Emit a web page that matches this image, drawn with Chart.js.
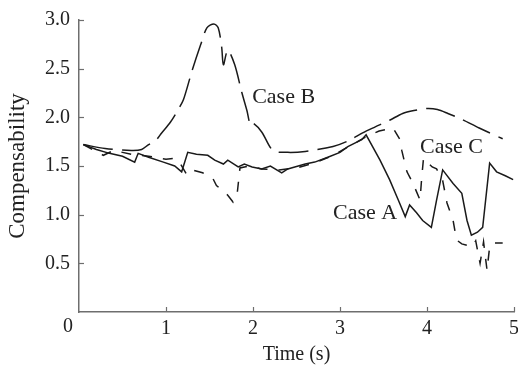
<!DOCTYPE html>
<html>
<head>
<meta charset="utf-8">
<script src="https://cdn.jsdelivr.net/npm/chart.js@4/dist/chart.umd.min.js"></script>
<style>
html,body{margin:0;padding:0;background:#fff;}
#wrap{width:518px;height:367px;position:relative;}
</style>
</head>
<body>
<div id="wrap"><canvas id="c"></canvas></div>
<script>
// ---- data ----
const caseATime = [0.05,0.2,0.35,0.5,0.64,0.68,0.8,0.97,1.1,1.18,1.25,1.35,1.48,1.56,1.66,1.71,1.83,1.9,1.99,2.1,2.2,2.33,2.4,2.48,2.6,2.71,2.86,3.0,3.09,3.25,3.30,3.46,3.57,3.67,3.75,3.80,3.88,3.95,4.05,4.11,4.18,4.30,4.40,4.46,4.51,4.58,4.64,4.72,4.80,4.90,4.99];
const caseAValues = [1.72,1.67,1.63,1.60,1.54,1.63,1.59,1.54,1.50,1.44,1.64,1.62,1.61,1.56,1.52,1.56,1.49,1.52,1.49,1.47,1.50,1.43,1.47,1.49,1.52,1.54,1.59,1.64,1.70,1.77,1.82,1.56,1.36,1.15,0.98,1.10,1.02,0.94,0.87,1.15,1.46,1.32,1.22,0.94,0.79,0.82,0.87,1.53,1.44,1.40,1.36];

const caseBTime = [0.05,0.3,0.6,0.72,0.8,0.88,0.95,1.05,1.14,1.2,1.30,1.40,1.47,1.55,1.60,1.64,1.66,1.71,1.79,1.87,1.93,1.97,2.0,2.1,2.23,2.40,2.6,2.92,3.1,3.26,3.40,3.57,3.72,3.85,4.0,4.12,4.24,4.40,4.6,4.87];
const caseBValues = [1.72,1.68,1.66,1.67,1.72,1.76,1.84,1.95,2.08,2.18,2.48,2.75,2.92,2.96,2.92,2.72,2.54,2.69,2.54,2.26,2.07,1.92,1.94,1.85,1.66,1.64,1.65,1.70,1.76,1.84,1.90,1.97,2.04,2.07,2.09,2.08,2.04,1.98,1.89,1.78];

const caseCTime = [0.05,0.28,0.4,0.6,0.8,1.0,1.1,1.16,1.24,1.30,1.42,1.54,1.58,1.71,1.77,1.82,1.85,1.95,2.1,2.3,2.5,2.7,2.9,3.1,3.3,3.45,3.61,3.69,3.71,3.75,3.77,3.84,3.92,3.94,3.96,4.06,4.11,4.18,4.23,4.30,4.34,4.40,4.52,4.56,4.61,4.65,4.69,4.72,4.76,4.87];
const caseCValues = [1.72,1.61,1.66,1.62,1.60,1.57,1.58,1.53,1.41,1.46,1.43,1.37,1.30,1.20,1.13,1.23,1.48,1.50,1.47,1.46,1.48,1.53,1.60,1.70,1.80,1.86,1.89,1.77,1.66,1.51,1.44,1.32,1.15,1.39,1.58,1.49,1.47,1.35,1.12,0.94,0.74,0.70,0.67,0.73,0.50,0.72,0.43,0.67,0.71,0.71];

const xTicks = [0,1,2,3,4,5];
const yTicks = [0.5,1.0,1.5,2.0,2.5,3.0];

const labelNames = ["Case A","Case B","Case C"];
const labelX = [2.92,1.99,3.92];
const labelY = [1.02,2.21,1.69];

// ---- build ----
const toPts = (t,v) => t.map((x,i)=>({x:x,y:v[i]}));
const LINE = '#1a1a1a';
const AXIS = '#6e6e6e';
const SERIF = '"Liberation Serif","Times New Roman",serif';

const decor = {
  id:'decor',
  afterDraw(chart){
    const ctx = chart.ctx, xs = chart.scales.x, ys = chart.scales.y;
    ctx.save();
    ctx.strokeStyle = AXIS; ctx.lineWidth = 1.2;
    const x0 = xs.left, y0 = ys.bottom;
    yTicks.forEach(v=>{
      const py = Math.round(ys.getPixelForValue(v))+0.5;
      ctx.beginPath(); ctx.moveTo(x0, py); ctx.lineTo(x0+5, py); ctx.stroke();
    });
    xTicks.forEach(v=>{
      if (v===0) return;
      const px = Math.round(xs.getPixelForValue(v))+0.5;
      ctx.beginPath(); ctx.moveTo(px, y0); ctx.lineTo(px, y0-5); ctx.stroke();
    });
    // origin label
    ctx.fillStyle = '#222';
    ctx.font = '20px ' + SERIF;
    ctx.textAlign = 'center'; ctx.textBaseline = 'middle';
    ctx.fillText('0', xs.getPixelForValue(0) - 11, y0 + 15);
    // case labels
    ctx.font = '22px ' + SERIF;
    ctx.textAlign = 'left'; ctx.textBaseline = 'middle';
    labelNames.forEach((n,i)=>{
      ctx.fillText(n, xs.getPixelForValue(labelX[i]), ys.getPixelForValue(labelY[i]));
    });
    ctx.restore();
  }
};

new Chart(document.getElementById('c'), {
  type:'line',
  data:{
    datasets:[
      {label:'Case A', data:toPts(caseATime,caseAValues), borderColor:LINE, borderWidth:1.5, pointRadius:0, tension:0, fill:false},
      {label:'Case B', data:toPts(caseBTime,caseBValues), borderColor:LINE, borderWidth:1.5, pointRadius:0, tension:0.3, fill:false, borderDash:[30,9]},
      {label:'Case C', data:toPts(caseCTime,caseCValues), borderColor:LINE, borderWidth:1.5, pointRadius:0, tension:0, fill:false, borderDash:[10,11]}
    ]
  },
  options:{
    responsive:true, maintainAspectRatio:false, animation:false,
    layout:{padding:{top:20,right:4,left:0,bottom:0}},
    plugins:{legend:{display:false}, tooltip:{enabled:false}},
    scales:{
      x:{
        type:'linear', min:0, max:5,
        afterBuildTicks(s){ s.ticks = xTicks.map(v=>({value:v})); },
        ticks:{ callback:v => v===0 ? '' : String(v), color:'#222', font:{family:SERIF,size:20}, padding:-3, maxRotation:0, autoSkip:false },
        grid:{display:false},
        border:{display:true, color:AXIS, width:1.5},
        title:{display:true, text:'Time (s)', color:'#222', font:{family:SERIF,size:20}, padding:{top:0,bottom:0}},
        afterFit(s){ s.height = 55; s.paddingLeft = 0; s.paddingRight = 0; }
      },
      y:{
        type:'linear', min:0, max:3,
        afterBuildTicks(s){ s.ticks = [0].concat(yTicks).map(v=>({value:v})); },
        ticks:{ callback:v => v===0 ? '' : v.toFixed(1), color:'#222', font:{family:SERIF,size:20}, padding:1, autoSkip:false },
        grid:{display:false},
        border:{display:true, color:AXIS, width:1.5},
        title:{display:true, text:'Compensability', color:'#222', font:{family:SERIF,size:23}, padding:{top:4,bottom:0}},
        afterFit(s){ s.width = 79; s.paddingTop = 0; s.paddingBottom = 0; }
      }
    }
  },
  plugins:[decor]
});
</script>
</body>
</html>
